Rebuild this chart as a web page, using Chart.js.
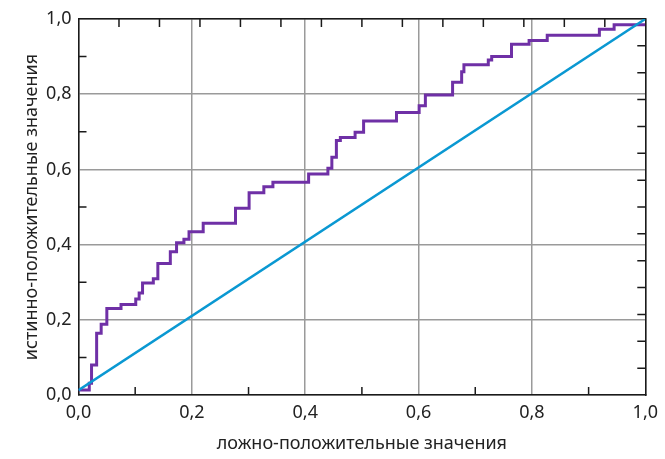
<!DOCTYPE html>
<html>
<head>
<meta charset="utf-8">
<script src="https://cdn.jsdelivr.net/npm/chart.js@4"></script>
<style>
  html, body { margin: 0; padding: 0; background: #fff; }
  #wrap { width: 665px; height: 459px; }
</style>
</head>
<body>
<div id="wrap"><canvas id="rocChart" width="665" height="459"></canvas></div>
<script>
// ROC curve: false positive rate (x) and true positive rate (y), step points
const fpr = [0, 0.019, 0.023, 0.032, 0.040, 0.050, 0.075, 0.101, 0.107, 0.113,
  0.132, 0.140, 0.162, 0.173, 0.186, 0.195, 0.220, 0.277, 0.301, 0.327,
  0.343, 0.406, 0.440, 0.447, 0.455, 0.462, 0.488, 0.503, 0.561, 0.601,
  0.612, 0.660, 0.676, 0.680, 0.723, 0.729, 0.764, 0.795, 0.827, 0.919,
  0.945, 1.0];
const tpr = [0.013, 0.031, 0.080, 0.164, 0.188, 0.230, 0.241, 0.255, 0.271, 0.298,
  0.309, 0.350, 0.381, 0.405, 0.414, 0.434, 0.457, 0.497, 0.538, 0.554,
  0.566, 0.588, 0.603, 0.632, 0.677, 0.685, 0.699, 0.729, 0.751, 0.769,
  0.798, 0.832, 0.860, 0.878, 0.891, 0.900, 0.933, 0.943, 0.957, 0.973,
  0.985, 0.985];

// reference diagonal
const diagX = [0, 1];
const diagY = [0.013, 1];

const majorTicks = [0, 0.2, 0.4, 0.6, 0.8, 1.0];
const minorTicks = [0.1, 0.3, 0.5, 0.7, 0.9];
const edgeTicks = [1/14, 2/14, 3/14, 4/14, 5/14, 6/14, 7/14, 8/14, 9/14, 10/14, 11/14, 12/14, 13/14];

const fmt = v => v.toFixed(1).replace('.', ',');
const FONT = '"Noto Sans", "Open Sans", sans-serif';

const innerTicks = {
  id: 'innerTicks',
  afterDraw(chart) {
    const { ctx, chartArea: a, scales: { x, y } } = chart;
    ctx.save();
    ctx.strokeStyle = '#1a1a1a';
    ctx.lineWidth = 1.5;
    ctx.beginPath();
    minorTicks.forEach(v => {
      const px = x.getPixelForValue(v);
      ctx.moveTo(px, a.bottom);
      ctx.lineTo(px, a.bottom - 8);
      const py = y.getPixelForValue(v);
      ctx.moveTo(a.left, py);
      ctx.lineTo(a.left + 8, py);
    });
    edgeTicks.forEach(v => {
      const px = x.getPixelForValue(v);
      ctx.moveTo(px, a.top);
      ctx.lineTo(px, a.top + 8);
      const py = y.getPixelForValue(v);
      ctx.moveTo(a.right, py);
      ctx.lineTo(a.right - 8, py);
    });
    ctx.stroke();
    ctx.restore();
  }
};

const axisBase = {
  type: 'linear',
  min: 0,
  max: 1,
  afterBuildTicks: s => { s.ticks = majorTicks.map(v => ({ value: v })); },
  grid: { color: '#9a9a9a', lineWidth: 1.5, drawTicks: false },
  border: { color: '#1a1a1a', width: 1.5 },
  ticks: { color: '#222', padding: 7, font: { family: FONT, size: 18 }, callback: v => fmt(v) }
};

const ctx = document.getElementById('rocChart').getContext('2d');
const rocChart = new Chart(ctx, {
  type: 'line',
  data: {
    datasets: [
      {
        label: 'ROC',
        data: fpr.map((v, i) => ({ x: v, y: tpr[i] })),
        stepped: 'before',
        borderColor: '#6f30a6',
        borderWidth: 3,
        pointRadius: 0,
        fill: false,
        order: 2
      },
      {
        label: 'diagonal',
        data: diagX.map((v, i) => ({ x: v, y: diagY[i] })),
        borderColor: '#0a98d2',
        borderWidth: 2.5,
        pointRadius: 0,
        fill: false,
        order: 1
      }
    ]
  },
  options: {
    responsive: false,
    animation: false,
    plugins: { legend: { display: false }, tooltip: { enabled: false } },
    layout: { padding: 0 },
    scales: {
      x: {
        ...axisBase,
        position: 'bottom',
        afterFit: s => { s.height = 64; },
        title: {
          display: true,
          text: 'ложно-положительные значения',
          color: '#222',
          font: { family: FONT, size: 18 },
          padding: { top: 0, bottom: 4 }
        }
      },
      y: {
        ...axisBase,
        position: 'left',
        afterFit: s => { s.width = 78.5; },
        title: {
          display: true,
          text: 'истинно-положительные значения',
          color: '#222',
          font: { family: FONT, size: 18 },
          padding: { top: 21, bottom: 0 }
        }
      },
      x2: {
        type: 'linear', position: 'top', min: 0, max: 1,
        afterFit: s => { s.height = 19; },
        ticks: { display: false },
        grid: { display: false, drawTicks: false },
        border: { color: '#1a1a1a', width: 1.5 }
      },
      y2: {
        type: 'linear', position: 'right', min: 0, max: 1,
        afterFit: s => { s.width = 18.5; },
        ticks: { display: false },
        grid: { display: false, drawTicks: false },
        border: { color: '#1a1a1a', width: 1.5 }
      }
    }
  },
  plugins: [innerTicks]
});
</script>
</body>
</html>
